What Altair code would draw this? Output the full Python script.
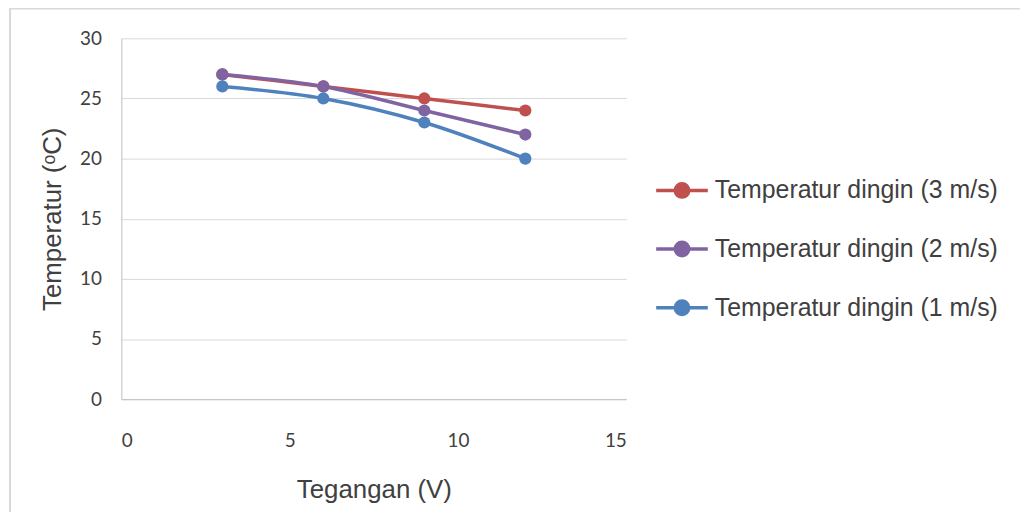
import altair as alt
import pandas as pd

x_vals = [3, 6, 9, 12]
series_names = ["Temperatur dingin (3 m/s)", "Temperatur dingin (2 m/s)", "Temperatur dingin (1 m/s)"]
t_3ms = [27, 26, 25, 24]
t_2ms = [27, 26, 24, 22]
t_1ms = [26, 25, 23, 20]
colors = ["#C0504D", "#8064A2", "#4F81BD"]

rows = []
for name, vals in zip(series_names, [t_3ms, t_2ms, t_1ms]):
    for xv, yv in zip(x_vals, vals):
        rows.append({"Tegangan": xv, "Temperatur": yv, "Seri": name})
df = pd.DataFrame(rows)

xenc = alt.X("Tegangan:Q", scale=alt.Scale(domain=[0, 15], nice=False),
             axis=alt.Axis(values=[0, 5, 10, 15], title="Tegangan (V)", grid=False,
                           ticks=False, labelPadding=33, titlePadding=26, domainColor="#BFBFBF"))
yenc = alt.Y("Temperatur:Q", scale=alt.Scale(domain=[0, 30], nice=False),
             axis=alt.Axis(values=[0, 5, 10, 15, 20, 25, 30], title="Temperatur (ᵒC)",
                           ticks=False, labelPadding=20, titlePadding=14, domainColor="#BFBFBF",
                           gridColor="#D9D9D9"))
cenc = alt.Color("Seri:N", scale=alt.Scale(domain=series_names, range=colors),
                 legend=alt.Legend(title=None, orient="none", legendX=536, legendY=125,
                                   symbolType="M-1,0H1M-0.26,0A0.26,0.26 0 1,0 0.26,0A0.26,0.26 0 1,0 -0.26,0Z",
                                   symbolSize=2700, symbolStrokeWidth=3.5, labelOffset=5,
                                   labelFontSize=25, labelColor="#404040", labelFont="Liberation Sans",
                                   rowPadding=17, labelLimit=400))

points = alt.Chart(df).mark_point(filled=True, size=150, opacity=1).encode(x=xenc, y=yenc, color=cenc)
lines = alt.Chart(df).mark_line(strokeWidth=3.5, interpolate="monotone").encode(x=xenc, y=yenc, color=cenc)

border = alt.Chart(pd.DataFrame({"a": [0]})).mark_rect(fill="transparent", stroke="#D9D9D9",
                                                        strokeWidth=2, clip=False).encode(
    x=alt.value(-112), x2=alt.value(1028 - 122 + 10), y=alt.value(-30), y2=alt.value(520))

chart = alt.layer(border, lines, points).properties(
    width=508, height=363,
    autosize=alt.AutoSizeParams(type="none"),
    padding={"left": 114, "top": 29, "right": 396, "bottom": 112},
).configure_view(stroke=None).configure_axis(
    labelFont="Lato", labelFontSize=19, labelColor="#404040",
    titleFont="Liberation Sans", titleFontSize=26, titleColor="#404040", titleFontWeight="normal",
)

chart.save("out.html", embed_options={"renderer": "svg", "actions": False})
